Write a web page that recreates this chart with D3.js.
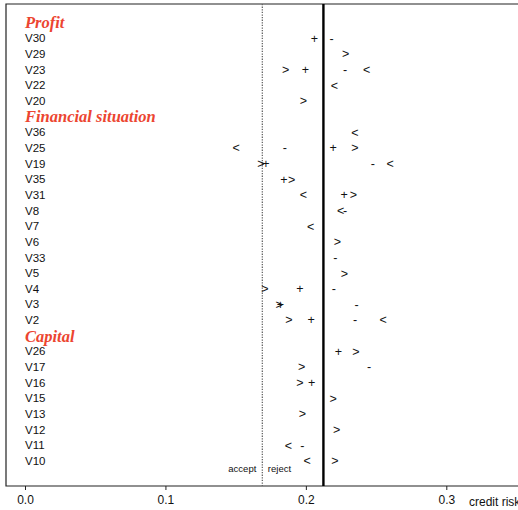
<!DOCTYPE html>
<html>
<head>
<meta charset="utf-8">
<script src="https://cdn.jsdelivr.net/npm/d3@7"></script>
<style>
html,body{margin:0;padding:0;background:#fff;}
svg{display:block;}
</style>
</head>
<body>
<svg id="chart" width="518" height="510"></svg>
<script>
// ---- data ----
const rowLabels = ["Profit","V30","V29","V23","V22","V20",
  "Financial situation","V36","V25","V19","V35","V31","V8","V7","V6","V33","V5","V4","V3","V2",
  "Capital","V26","V17","V16","V15","V13","V12","V11","V10"];
const groupHeaders = ["Profit","Financial situation","Capital"];
const xTicks = [0.0, 0.1, 0.2, 0.3];
const xTitle = "credit risk";
const acceptThreshold = 0.169;
const meanRisk = 0.2125;

const plusMarks = [["V30",0.206],["V23",0.1996],["V25",0.2195],["V19",0.1716],["V35",0.1844],
  ["V31",0.2272],["V4",0.1958],["V3",0.1818],["V2",0.2037],["V26",0.2231],["V16",0.2042]];
const minusMarks = [["V30",0.2184],["V23",0.2279],["V25",0.1851],["V19",0.2476],["V8",0.2279],
  ["V33",0.221],["V4",0.22],["V3",0.2362],["V2",0.235],["V17",0.245],["V11",0.1975]];
const greaterMarks = [["V29",0.2284],["V23",0.1856],["V20",0.1982],["V25",0.235],["V19",0.168],
  ["V35",0.1899],["V31",0.2338],["V6",0.2224],["V5",0.2274],["V4",0.1709],["V3",0.1809],
  ["V2",0.188],["V26",0.2357],["V17",0.197],["V16",0.1958],["V15",0.2195],["V13",0.1975],
  ["V12",0.222],["V10",0.2207]];
const lessMarks = [["V23",0.2433],["V22",0.2203],["V36",0.235],["V25",0.1503],["V19",0.26],
  ["V31",0.1982],["V8",0.2248],["V7",0.2034],["V2",0.2551],["V11",0.1875],["V10",0.201]];

// ---- layout ----
const svg = d3.select("#chart");
const frame = {left: 6, top: 4, bottom: 486, right: 530};
const x = d3.scaleLinear().domain([0, 0.3]).range([25, 446.3]);
const y = d3.scalePoint().domain(rowLabels).range([22.7, 461]);

// frame
svg.append("path")
  .attr("d", `M${frame.right},${frame.top}H${frame.left}V${frame.bottom}H${frame.right}`)
  .attr("fill", "none").attr("stroke", "#222").attr("stroke-width", 1.2);

// reference lines
svg.append("line")
  .attr("x1", x(acceptThreshold)).attr("x2", x(acceptThreshold))
  .attr("y1", frame.top).attr("y2", frame.bottom)
  .attr("stroke", "#666").attr("stroke-width", 1.3).attr("stroke-dasharray", "1.3,1.3");
svg.append("line")
  .attr("x1", x(meanRisk)).attr("x2", x(meanRisk))
  .attr("y1", frame.top).attr("y2", frame.bottom)
  .attr("stroke", "#000").attr("stroke-width", 2.4);

// accept / reject labels
svg.append("text").attr("x", x(acceptThreshold) - 6).attr("y", 469).attr("dy", "0.35em")
  .attr("text-anchor", "end").attr("font-family", "Liberation Sans, Arial, sans-serif")
  .attr("font-size", 9.5).attr("fill", "#111").text("accept");
svg.append("text").attr("x", x(acceptThreshold) + 5.5).attr("y", 469).attr("dy", "0.35em")
  .attr("text-anchor", "start").attr("font-family", "Liberation Sans, Arial, sans-serif")
  .attr("font-size", 9.5).attr("fill", "#111").text("reject");

// row labels
svg.append("g").selectAll("text").data(rowLabels).join("text")
  .attr("x", 25)
  .attr("y", d => y(d))
  .attr("dy", "0.35em")
  .attr("font-family", d => groupHeaders.includes(d) ? "Liberation Serif, Times New Roman, serif" : "Liberation Sans, Arial, sans-serif")
  .attr("font-size", d => groupHeaders.includes(d) ? 16.5 : 11.5)
  .attr("font-weight", d => groupHeaders.includes(d) ? "bold" : "normal")
  .attr("font-style", d => groupHeaders.includes(d) ? "italic" : "normal")
  .attr("fill", d => groupHeaders.includes(d) ? "#ec4530" : "#111")
  .text(d => d);

// markers
const markerSets = [[plusMarks, "+"], [minusMarks, "-"], [greaterMarks, ">"], [lessMarks, "<"]];
const mg = svg.append("g")
  .attr("font-family", "Liberation Sans, Arial, sans-serif")
  .attr("font-size", 12.5).attr("fill", "#111").attr("text-anchor", "middle");
markerSets.forEach(([arr, sym]) => {
  mg.selectAll(null).data(arr).join("text")
    .attr("x", d => x(d[1]))
    .attr("y", d => y(d[0]))
    .attr("dy", "0.35em")
    .text(sym);
});

// x axis
const axis = d3.axisBottom(x).tickValues(xTicks).tickFormat(d3.format(".1f")).tickSize(4).tickPadding(5);
const ag = svg.append("g").attr("transform", `translate(0,${frame.bottom})`).call(axis);
ag.select(".domain").remove();
ag.selectAll(".tick line").attr("stroke", "#222");
ag.selectAll(".tick text").attr("font-family", "Liberation Sans, Arial, sans-serif")
  .attr("font-size", 12).attr("fill", "#111");

svg.append("text").attr("x", 469).attr("y", 506)
  .attr("font-family", "Liberation Sans, Arial, sans-serif")
  .attr("font-size", 12).attr("fill", "#111").text(xTitle);
</script>
</body>
</html>
